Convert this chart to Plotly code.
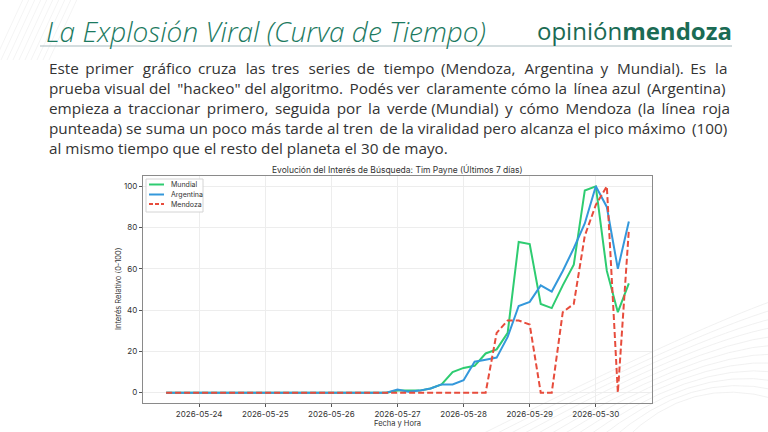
import plotly.graph_objects as go

# ---------------- data ----------------
times = [
    "2026-05-23 12:00", "2026-05-23 16:00", "2026-05-23 20:00",
    "2026-05-24 00:00", "2026-05-24 04:00", "2026-05-24 08:00", "2026-05-24 12:00", "2026-05-24 16:00", "2026-05-24 20:00",
    "2026-05-25 00:00", "2026-05-25 04:00", "2026-05-25 08:00", "2026-05-25 12:00", "2026-05-25 16:00", "2026-05-25 20:00",
    "2026-05-26 00:00", "2026-05-26 04:00", "2026-05-26 08:00", "2026-05-26 12:00", "2026-05-26 16:00", "2026-05-26 20:00",
    "2026-05-27 00:00", "2026-05-27 04:00", "2026-05-27 08:00", "2026-05-27 12:00", "2026-05-27 16:00", "2026-05-27 20:00",
    "2026-05-28 00:00", "2026-05-28 04:00", "2026-05-28 08:00", "2026-05-28 12:00", "2026-05-28 16:00", "2026-05-28 20:00",
    "2026-05-29 00:00", "2026-05-29 04:00", "2026-05-29 08:00", "2026-05-29 12:00", "2026-05-29 16:00", "2026-05-29 20:00",
    "2026-05-30 00:00", "2026-05-30 04:00", "2026-05-30 08:00", "2026-05-30 12:00",
]
mundial = [0, 0, 0,
           0, 0, 0, 0, 0, 0,
           0, 0, 0, 0, 0, 0,
           0, 0, 0, 0, 0, 0,
           1, 1, 1, 2, 4, 10,
           12, 13, 19, 21, 29, 73,
           72, 43, 41, 52, 62, 98,
           100, 59, 39, 53]
argentina = [0, 0, 0,
             0, 0, 0, 0, 0, 0,
             0, 0, 0, 0, 0, 0,
             0, 0, 0, 0, 0, 0,
             1.5, 0.5, 1, 2, 4, 4,
             6, 15, 16, 17, 27, 42,
             44, 52, 49, 59, 70, 82,
             100, 90, 60, 83]
mendoza = [0, 0, 0,
           0, 0, 0, 0, 0, 0,
           0, 0, 0, 0, 0, 0,
           0, 0, 0, 0, 0, 0,
           0, 0, 0, 0, 0, 0,
           0, 0, 0, 29, 35, 35,
           33, 0, 0, 39, 43, 76,
           91, 100, 0, 79]

series_names = ["Mundial", "Argentina", "Mendoza"]
series_colors = ["#2ecc71", "#3498db", "#e74c3c"]

x_ticks = ["2026-05-24", "2026-05-25", "2026-05-26", "2026-05-27",
           "2026-05-28", "2026-05-29", "2026-05-30"]
y_ticks = [0, 20, 40, 60, 80, 100]

slide_title = "La Explosión Viral (Curva de Tiempo)"
paragraph_lines = [
    "Este primer gráfico cruza las tres series de tiempo (Mendoza, Argentina y Mundial). Es la",
    "prueba visual del \"hackeo\" del algoritmo. Podés ver claramente cómo la línea azul (Argentina)",
    "empieza a traccionar primero, seguida por la verde (Mundial) y cómo Mendoza (la línea roja",
    "punteada) se suma un poco más tarde al tren de la viralidad pero alcanza el pico máximo (100)",
    "al mismo tiempo que el resto del planeta el 30 de mayo.",
]
chart_title = "Evolución del Interés de Búsqueda: Tim Payne (Últimos 7 días)"

# ---------------- figure ----------------
CF = "Inter"
PL, PR, PT, PB = 143, 652, 176, 403  # plot-area pixel box


def px_x(px):
    return (px - PL) / float(PR - PL)


def px_y(py):
    return (PB - py) / float(PB - PT)


def justify(line, n_extra):
    """Insert n_extra thin spaces spread evenly over the word gaps."""
    words = line.split(" ")
    gaps = len(words) - 1
    if n_extra <= 0 or gaps <= 0:
        return line
    out = words[0]
    for g in range(gaps):
        k = (n_extra * (g + 1)) // gaps - (n_extra * g) // gaps
        out += " " + "\u2009" * k + words[g + 1]
    return out


fig = go.Figure()
fig.add_trace(go.Scatter(x=times, y=mundial, name=series_names[0], mode="lines",
                         line=dict(color=series_colors[0], width=2)))
fig.add_trace(go.Scatter(x=times, y=argentina, name=series_names[1], mode="lines",
                         line=dict(color=series_colors[1], width=2)))
fig.add_trace(go.Scatter(x=times, y=mendoza, name=series_names[2], mode="lines",
                         line=dict(color=series_colors[2], width=2, dash="6px,3px")))

axis_common = dict(showgrid=True, gridcolor="#ededed", gridwidth=1,
                   showline=True, linecolor="#8a8a8a", linewidth=1.2, mirror=True,
                   ticks="outside", ticklen=3, tickcolor="#555",
                   tickfont=dict(family=CF, size=8, color="#333"),
                   zeroline=False)

fig.update_layout(
    width=768, height=432,
    margin=dict(l=PL, r=768 - PR, t=PT, b=432 - PB),
    paper_bgcolor="white", plot_bgcolor="white",
    showlegend=False,
    xaxis=dict(range=["2026-05-23 03:36", "2026-05-30 20:24"],
               tickvals=x_ticks, ticktext=x_ticks, **axis_common),
    yaxis=dict(range=[-5, 105], tickvals=y_ticks, **axis_common),
)

shapes = []
# faint decorative background strokes (top-left diagonals, bottom-right arcs)
for i in range(10):
    shapes.append(dict(type="line", xref="paper", yref="paper", layer="below",
                       x0=px_x(-5 + i * 6), y0=px_y(60), x1=px_x(25 + i * 6), y1=px_y(-5),
                       line=dict(color="#f1f1f1", width=0.8)))
for i in range(12):
    x0 = 470 + i * 14
    path = "M %f,%f Q %f,%f %f,%f" % (px_x(x0), px_y(440), px_x(690), px_y(330 + i * 4),
                                      px_x(775), px_y(300 + i * 9))
    shapes.append(dict(type="path", xref="paper", yref="paper", layer="below", path=path,
                       line=dict(color="#eeeeee", width=0.8)))

# title underline
shapes.append(dict(type="line", xref="paper", yref="paper",
                   x0=px_x(40), x1=px_x(732), y0=px_y(46), y1=px_y(46),
                   line=dict(color="#a9bcc0", width=1.2)))

ann = []
ann.append(dict(text=slide_title, x=px_x(44), y=px_y(31), xanchor="left", yanchor="middle",
                font=dict(family="Open Sans", size=28, color="#1c7a5f", style="italic", weight=300)))
ann.append(dict(text="opinión<b>mendoza</b>", x=px_x(734), y=px_y(30), xanchor="right", yanchor="middle",
                font=dict(family="Open Sans", size=24, color="#1b6b54")))

# paragraph (justified approximately with thin spaces)
line_y = [68, 88, 108, 128, 148]
extra = [21, 5, 12, 2, 0]
for t, yy, ex in zip(paragraph_lines, line_y, extra):
    ann.append(dict(text=justify(t, ex), x=px_x(47), y=px_y(yy), xanchor="left", yanchor="middle",
                    font=dict(family="Open Sans", size=15.3, color="#333333")))

ann.append(dict(text=chart_title, x=px_x(397.5), y=px_y(169), xanchor="center", yanchor="middle",
                font=dict(family=CF, size=8.5, color="#333")))
ann.append(dict(text="Fecha y Hora", x=px_x(397.5), y=px_y(423), xanchor="center", yanchor="middle",
                font=dict(family=CF, size=7.5, color="#333")))
ann.append(dict(text="Interés Relativo (0-100)", x=px_x(118), y=px_y(289), xanchor="center", yanchor="middle",
                textangle=-90, font=dict(family=CF, size=7.5, color="#333")))

# manual compact legend (matplotlib style)
shapes.append(dict(type="rect", xref="paper", yref="paper",
                   x0=px_x(146), x1=px_x(203), y0=px_y(212), y1=px_y(179),
                   line=dict(color="#d4d4d4", width=1), fillcolor="rgba(255,255,255,0.85)"))
leg_y = [184.5, 194.5, 204.0]
leg_dash = ["solid", "solid", "4px,2px"]
for name, col, yy, dsh in zip(series_names, series_colors, leg_y, leg_dash):
    shapes.append(dict(type="line", xref="paper", yref="paper",
                       x0=px_x(149), x1=px_x(164), y0=px_y(yy), y1=px_y(yy),
                       line=dict(color=col, width=2, dash=dsh)))
    ann.append(dict(text=name, x=px_x(169), y=px_y(yy), xanchor="left", yanchor="middle",
                    font=dict(family=CF, size=7, color="#333")))

for a in ann:
    a.update(xref="paper", yref="paper", showarrow=False)
fig.update_layout(annotations=ann, shapes=shapes)

fig.write_html("out.html", config={"displayModeBar": False},
               post_script="document.body.style.margin='0';document.body.style.overflow='hidden';")
